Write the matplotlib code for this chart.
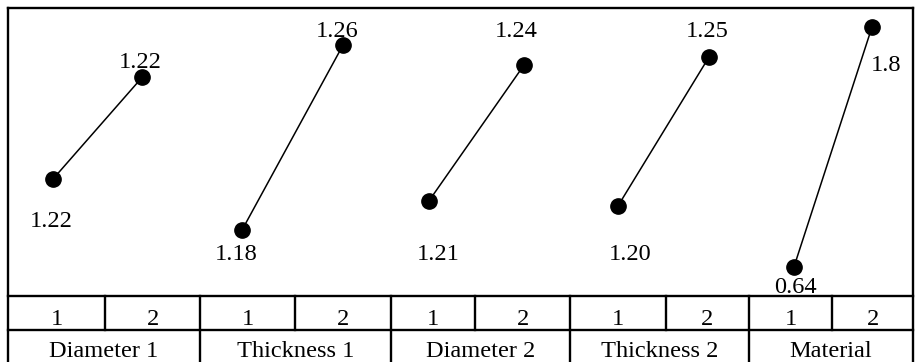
import matplotlib.pyplot as plt

plt.rcParams['font.family'] = ['Liberation Serif', 'DejaVu Serif']

# main effects: mean response at level 1 and level 2 of each factor
factors = ["Diameter 1", "Thickness 1", "Diameter 2", "Thickness 2", "Material"]
levels = ["1", "2"]
level1_mean = [1.218, 1.18, 1.21, 1.20, 0.64]
level2_mean = [1.224, 1.26, 1.24, 1.25, 1.80]
level1_text = ["1.22", "1.18", "1.21", "1.20", "0.64"]
level2_text = ["1.22", "1.26", "1.24", "1.25", "1.8"]

# layout in pixels (figure is 915 x 362)
W, H = 915, 362
left, right, top, plot_bottom, row_split = 8, 913, 8, 296, 330
factor_edges = [8, 200, 391, 570, 749, 913]
level_splits = [105, 295, 475, 666, 832]
# where the two levels sit inside each factor strip (fraction of strip width)
x_pos = [(0.234, 0.698), (0.220, 0.749), (0.212, 0.743), (0.268, 0.777), (0.274, 0.750)]
# each factor gets its own vertical scale
y_lims = [(1.2111, 1.2281), (1.1515, 1.2760), (1.1890, 1.2526),
          (1.1698, 1.2664), (0.4998, 1.8918)]
# label offsets from the marker, pixels (dx, dy)
off1 = [(-2, -48), (-6, -30), (9, -59), (12, -54), (2, -26)]
off2 = [(-2, 9), (-6, 8), (-8, 28), (-2, 20), (14, -44)]

fs = 17.6
fig = plt.figure(figsize=(W / 100, H / 100), dpi=100)

# background axes in pixel coords for the frame and the level table
bg = fig.add_axes([0, 0, 1, 1])
bg.set_xlim(0, W)
bg.set_ylim(H, 0)
bg.axis('off')
lw = 1.7
bg.plot([left, right], [top, top], color='black', lw=lw)
bg.plot([left, left], [top, H], color='black', lw=lw)
bg.plot([right, right], [top, H], color='black', lw=lw)
bg.plot([left, right], [plot_bottom, plot_bottom], color='black', lw=lw)
bg.plot([left, right], [row_split, row_split], color='black', lw=lw)
for x in factor_edges[1:-1]:
    bg.plot([x, x], [plot_bottom, H], color='black', lw=lw)
for x in level_splits:
    bg.plot([x, x], [plot_bottom, row_split], color='black', lw=lw)

for i, name in enumerate(factors):
    x0, x1 = factor_edges[i], factor_edges[i + 1]
    xm = level_splits[i]
    bg.text((x0 + xm) / 2, 325, levels[0], ha='center', va='baseline', fontsize=fs)
    bg.text((xm + x1) / 2, 325, levels[1], ha='center', va='baseline', fontsize=fs)
    bg.text((x0 + x1) / 2, 357, name, ha='center', va='baseline', fontsize=fs)

    ax = fig.add_axes([x0 / W, (H - plot_bottom) / H, (x1 - x0) / W, (plot_bottom - top) / H])
    ax.set_xlim(0, 1)
    ax.set_ylim(*y_lims[i])
    ax.axis('off')
    xs = list(x_pos[i])
    ys = [level1_mean[i], level2_mean[i]]
    ax.plot(xs, ys, color='black', lw=1.1, marker='o', markersize=11,
            markerfacecolor='black', markeredgecolor='black', clip_on=False)
    ax.annotate(level1_text[i], (xs[0], ys[0]), xytext=off1[i], textcoords='offset pixels',
                ha='center', va='baseline', fontsize=fs)
    ax.annotate(level2_text[i], (xs[1], ys[1]), xytext=off2[i], textcoords='offset pixels',
                ha='center', va='baseline', fontsize=fs)

fig.savefig('out.png', dpi=100)
